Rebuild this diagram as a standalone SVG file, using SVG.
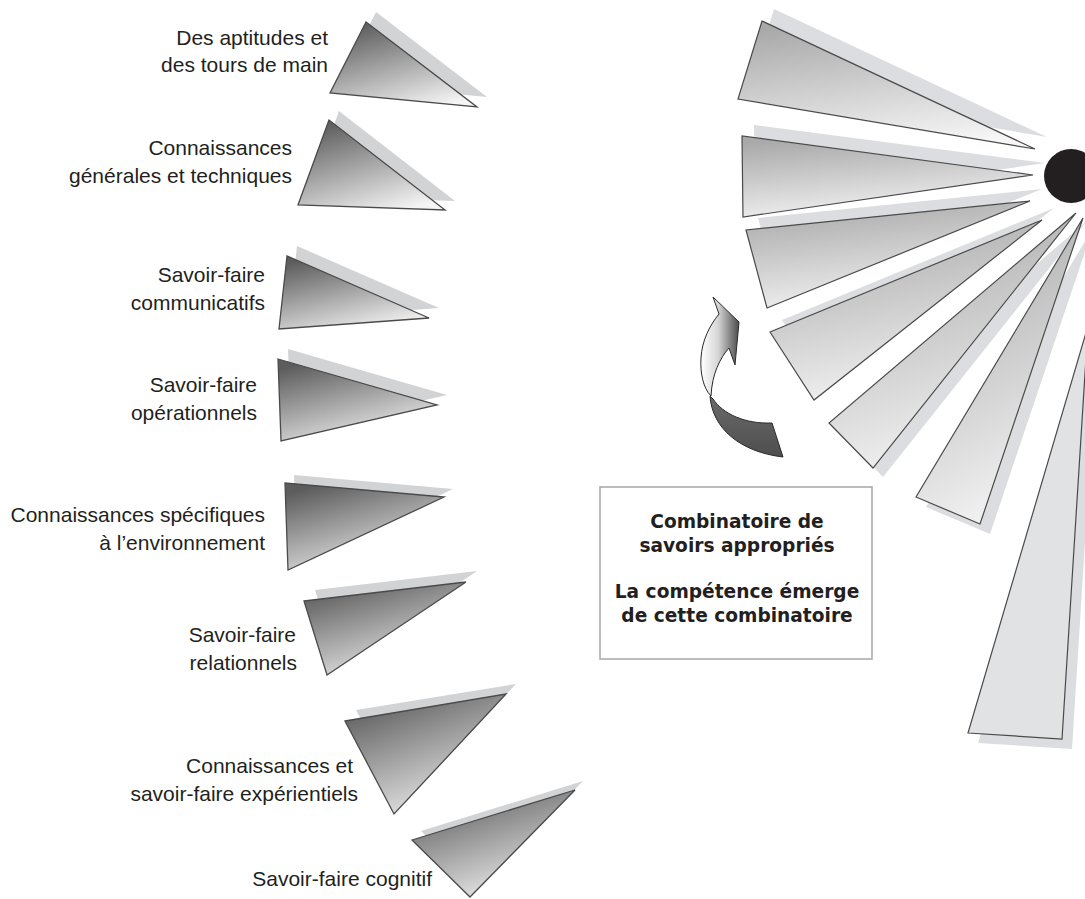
<svg xmlns="http://www.w3.org/2000/svg" width="1085" height="899" viewBox="0 0 1085 899">
  <defs>
    <!-- dark-to-light fill of the knowledge wedges on the left -->
    <linearGradient id="gLeft" x1="0.25" y1="0" x2="0.75" y2="1">
      <stop offset="0" stop-color="#5c5c5c"/>
      <stop offset="1" stop-color="#f5f5f5"/>
    </linearGradient>
    <!-- paler fill of the rays around the dot -->
    <linearGradient id="gRay" x1="0.3" y1="0" x2="0.6" y2="1">
      <stop offset="0" stop-color="#a9a9a9"/>
      <stop offset="1" stop-color="#f6f6f6"/>
    </linearGradient>
    <linearGradient id="gArrowFront" x1="0" y1="0" x2="1" y2="0">
      <stop offset="0" stop-color="#ffffff"/>
      <stop offset="0.45" stop-color="#d6d6d6"/>
      <stop offset="1" stop-color="#4b4b4b"/>
    </linearGradient>
    <linearGradient id="gArrowBack" x1="0" y1="0" x2="0" y2="1">
      <stop offset="0" stop-color="#6a6a6a"/>
      <stop offset="1" stop-color="#4e4e4e"/>
    </linearGradient>
  </defs>
  <style>
    .shadowL { fill: #d2d3d5; }
    .shadowR { fill: #dcdde0; }
    .tri { fill: url(#gLeft); stroke: #4a4a4a; stroke-width: 1.3; stroke-linejoin: miter; }
    .ray { fill: url(#gRay); stroke: #4a4a4a; stroke-width: 1.2; }
    .rayFlat { fill: #e1e2e4; stroke: #4a4a4a; stroke-width: 1.2; }
    .lbl { font-family: "Liberation Sans", Arial, sans-serif; font-size: 21px; fill: #231f20; text-anchor: end; }
    .box { fill: #ffffff; stroke: #a7a7a7; stroke-width: 1.5; }
    .boxTxt { font-family: "DejaVu Sans", sans-serif; font-weight: bold; font-size: 18.6px; fill: #231f20; text-anchor: middle; }
  </style>

  <rect width="1085" height="899" fill="#ffffff"/>

  <!-- left column: one labelled wedge per kind of knowledge -->
  <g id="n1">
    <polygon class="shadowL" points="376,12 340,83 487,97"/>
    <polygon class="tri" points="366,22 330,93 477,107"/>
    <text class="lbl" x="328" y="45">Des aptitudes et</text>
    <text class="lbl" x="328" y="72">des tours de main</text>
  </g>
  <g id="n2">
    <polygon class="shadowL" points="339,111 308,196 455,201"/>
    <polygon class="tri" points="329,120 298,205 445,210"/>
    <text class="lbl" x="292" y="155">Connaissances</text>
    <text class="lbl" x="292" y="183">générales et techniques</text>
  </g>
  <g id="n3">
    <polygon class="shadowL" points="297,246 289,319 439,308"/>
    <polygon class="tri" points="287,256 279,329 429,318"/>
    <text class="lbl" x="265" y="282">Savoir-faire</text>
    <text class="lbl" x="265" y="310">communicatifs</text>
  </g>
  <g id="n4">
    <polygon class="shadowL" points="288,349 291,431 447,395"/>
    <polygon class="tri" points="278,359 281,441 437,405"/>
    <text class="lbl" x="257" y="392">Savoir-faire</text>
    <text class="lbl" x="257" y="420">opérationnels</text>
  </g>
  <g id="n5">
    <polygon class="shadowL" points="294,475 297,562 453,489"/>
    <polygon class="tri" points="285,483 288,570 444,497"/>
    <text class="lbl" x="265" y="522">Connaissances spécifiques</text>
    <text class="lbl" x="265" y="550">à l’environnement</text>
  </g>
  <g id="n6">
    <polygon class="shadowL" points="315,590 477,571 338,664"/>
    <polygon class="tri" points="304,601 466,582 327,675"/>
    <text class="lbl" x="296" y="642">Savoir-faire</text>
    <text class="lbl" x="297" y="670">relationnels</text>
  </g>
  <g id="n7">
    <polygon class="shadowL" points="356,710 516,684 405,803"/>
    <polygon class="tri" points="345,721 506,694 394,814"/>
    <text class="lbl" x="353" y="773">Connaissances et</text>
    <text class="lbl" x="358" y="801">savoir-faire expérientiels</text>
  </g>
  <g id="n8">
    <polygon class="shadowL" points="421,831 583,781 479,888"/>
    <polygon class="tri" points="412,840 575,790 470,897"/>
    <text class="lbl" x="432" y="886">Savoir-faire cognitif</text>
  </g>

  <!-- right side: rays converging on the dot -->
  <g id="rays">
    <polygon class="shadowR" points="774,9 750,87 1047,137"/>
    <polygon class="ray" points="762,21 738,99 1035,149"/>
    <polygon class="shadowR" points="754,125 755,206 1045,163"/>
    <polygon class="ray" points="742,136 743,217 1033,175"/>
    <polygon class="shadowR" points="758,218 779,296 1042,189"/>
    <polygon class="ray" points="746,230 767,308 1030,201"/>
    <polygon class="shadowR" points="782,320 826,388 1054,208"/>
    <polygon class="ray" points="770,332 814,400 1042,220"/>
    <polygon class="shadowR" points="839,432 883,477 1086,222"/>
    <polygon class="ray" points="829,423 873,468 1076,213"/>
    <polygon class="shadowR" points="926,507 990,534 1093,228"/>
    <polygon class="ray" points="916,497 980,524 1083,218"/>
    <polygon class="shadowR" points="978,743 1072,749 1098,336"/>
    <polygon class="rayFlat" points="968,733 1062,739 1088,326"/>
  </g>
  <g id="dot">
    <circle cx="1071" cy="176" r="27" fill="#231f20"/>
  </g>

  <!-- curved arrow turning back toward the rays -->
  <g id="connectors">
    <path d="M710,396 C712,428 740,452 783,457 L772,423 C745,424 723,414 713,399 Z" fill="url(#gArrowBack)" stroke="#2a2a2a" stroke-width="1"/>
    <path d="M713,297 L739,322 L735,365 L729,348 C720,358 712,374 711,396 C703,388 700,372 701,358 C702,340 710,325 719,314 Z" fill="url(#gArrowFront)" stroke="#2a2a2a" stroke-width="1"/>
  </g>

  <!-- caption box -->
  <g id="caption">
    <rect class="box" x="600" y="487" width="272" height="172"/>
    <text class="boxTxt" x="737" y="528">Combinatoire de</text>
    <text class="boxTxt" x="737" y="552">savoirs appropriés</text>
    <text class="boxTxt" x="737" y="598">La compétence émerge</text>
    <text class="boxTxt" x="737" y="622">de cette combinatoire</text>
  </g>
</svg>
